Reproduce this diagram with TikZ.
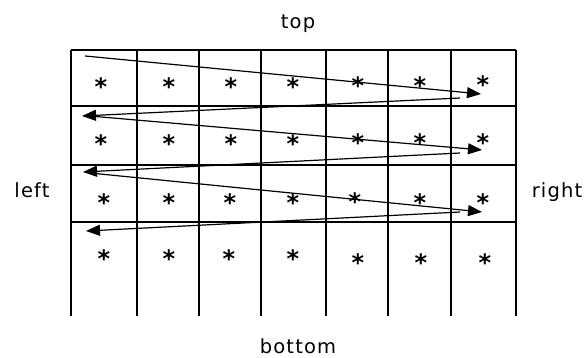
\documentclass[tikz,border=0pt]{standalone}
\usepackage{fontspec}
\setmainfont{DejaVu Sans}
\newfontfamily\labfont[LetterSpace=6]{DejaVu Sans}
\usetikzlibrary{arrows.meta}
\tikzset{
  gridline/.style={line width=1.5pt, black},
  label/.style={font=\labfont\fontsize{19.5}{22}\selectfont, inner sep=0pt, anchor=base},
  star/.style={font=\bfseries\fontsize{24}{24}\selectfont, inner sep=0pt, anchor=base},
  scan/.style={line width=1.2pt, -{Triangle[length=14pt,width=11pt]}},
}
\begin{document}
\begin{tikzpicture}[x=1pt,y=-1pt]
\useasboundingbox (0,0) rectangle (586,358);
% grid
\draw[gridline] (71,50) -- (516,50);
\foreach \y in {106,165,222} \draw[gridline] (71,\y) -- (516,\y);
\foreach \x in {71,137,199,261,326,388,451,516} \draw[gridline] (\x,50) -- (\x,316);
% labels
\node[label] (top) at (298,29) {top};
\node[label] (bottom) at (298,353) {bottom};
\node[label] (left) at (32,197) {left};
\node[label] (right) at (557,197) {right};
% stars
\foreach \x/\y [count=\i] in {101/81,169/81,231/81,293/81,358/80,420/80,483/79,
  101/138,169/138,231/138,293/138,358/137,420/137,483/137,
  104/197,169/197,230/197,293/197,355/196,420/197,483/197,
  104/253,169/253,229/253,293/253,358/257,421/257,485/257}
  \node[star] (s\i) at (\x,\y+14.5) {*};
% scan path coordinates
\coordinate (r1s) at (85,56);  \coordinate (r1e) at (481,94);
\coordinate (l1s) at (460,98); \coordinate (l1e) at (82,116);
\coordinate (r2s) at (90,116); \coordinate (r2e) at (482,150);
\coordinate (l2s) at (460,153);\coordinate (l2e) at (83,172);
\coordinate (r3s) at (90,173); \coordinate (r3e) at (482,212);
\coordinate (l3s) at (460,212);\coordinate (l3e) at (86,231);
\draw[scan] (r1s) -- (r1e);
\draw[scan] (l1s) -- (l1e);
\draw[scan] (r2s) -- (r2e);
\draw[scan] (l2s) -- (l2e);
\draw[scan] (r3s) -- (r3e);
\draw[scan] (l3s) -- (l3e);
\end{tikzpicture}
\end{document}
